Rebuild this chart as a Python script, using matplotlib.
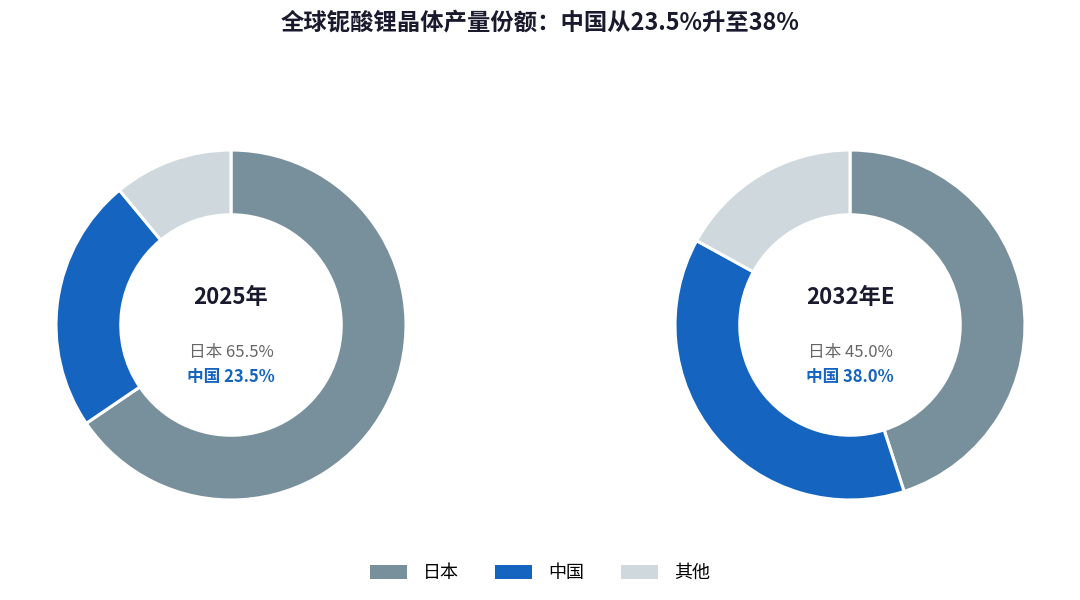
import matplotlib.pyplot as plt
from matplotlib.patches import Patch

plt.rcParams['font.family'] = ['Noto Sans CJK SC', 'DejaVu Sans']

# 数据
categories = ["日本", "中国", "其他"]
years = ["2025年", "2032年E"]
share_2025 = [65.5, 23.5, 11.0]
share_2032 = [45.0, 38.0, 17.0]
colors = ["#78909C", "#1565C0", "#CFD8DC"]
title = "全球铌酸锂晶体产量份额：中国从23.5%升至38%"

W, H = 1080, 600
fig = plt.figure(figsize=(W / 100, H / 100), dpi=100)
fig.patch.set_facecolor("white")

box = 360  # 轴的像素尺寸
centers = [(231, 325), (850, 325)]

for (cx, cy), year, vals in zip(centers, years, [share_2025, share_2032]):
    ax = fig.add_axes([(cx - box / 2) / W, (H - cy - box / 2) / H, box / W, box / H])
    ax.pie(
        vals,
        colors=colors,
        startangle=90,
        counterclock=False,
        radius=175 / 180,
        wedgeprops=dict(width=0.37 * 175 / 180, edgecolor="white", linewidth=2.2),
    )
    ax.set_xlim(-1, 1)
    ax.set_ylim(-1, 1)
    ax.set_aspect("equal")
    ax.axis("off")
    ax.text(0, 0.155, year, ha="center", va="center", fontsize=16,
            fontweight="bold", color="#1a1a2e")
    ax.text(0, -0.15, f"{categories[0]} {vals[0]:.1f}%", ha="center", va="center",
            fontsize=12, color="#666666")
    ax.text(0, -0.29, f"{categories[1]} {vals[1]:.1f}%", ha="center", va="center",
            fontsize=12, fontweight="bold", color="#1565C0")

fig.text(0.5, 1 - 22 / H, title, ha="center", va="center", fontsize=16.8,
         fontweight="bold", color="#1a1a2e")

handles = [Patch(facecolor=c, edgecolor="none") for c in colors]
fig.legend(handles, categories, loc="center", bbox_to_anchor=(0.5, 1 - 573 / H),
           ncol=3, frameon=False, fontsize=13, handlelength=2.05, handleheight=0.8,
           columnspacing=2.0, handletextpad=0.9)

fig.savefig("out.png", dpi=100)
